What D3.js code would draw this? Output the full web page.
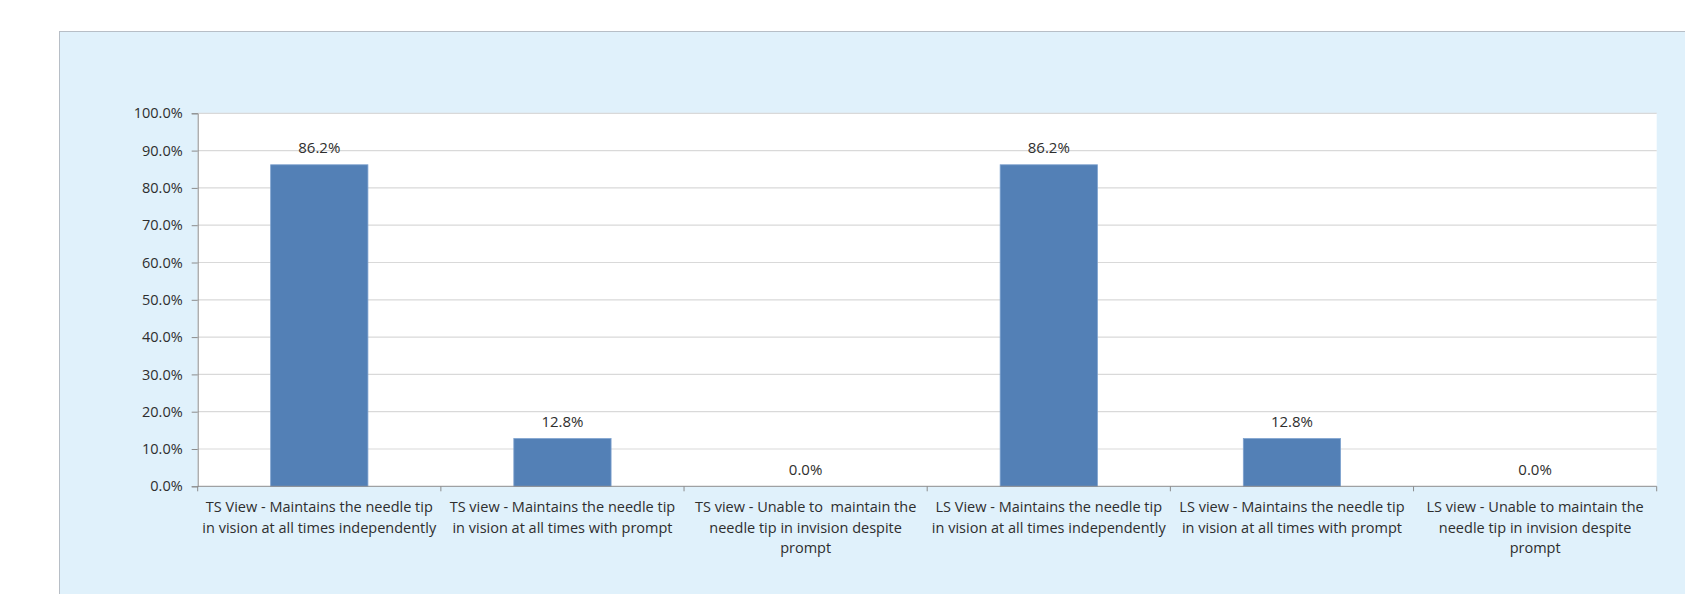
<!DOCTYPE html>
<html>
<head>
<meta charset="utf-8">
<script src="https://cdn.jsdelivr.net/npm/d3@7"></script>
<style>
  body { margin: 0; background: #ffffff; }
  svg text { font-family: "Open Sans", "Noto Sans", sans-serif; fill: #2e2e2e; white-space: pre; }
</style>
</head>
<body>
<script>
// Category labels (line breaks as in the chart)
var categories = [
	"TS View - Maintains the needle tip\nin vision at all times independently",
	"TS view - Maintains the needle tip\nin vision at all times with prompt",
	"TS view - Unable to  maintain the\nneedle tip in invision despite\nprompt",
	"LS View - Maintains the needle tip\nin vision at all times independently",
	"LS view - Maintains the needle tip\nin vision at all times with prompt",
	"LS view - Unable to maintain the\nneedle tip in invision despite\nprompt"
];

// Percentages
var values = [86.2, 12.8, 0.0, 86.2, 12.8, 0.0];

// y tick values
var yTicks = [0, 10, 20, 30, 40, 50, 60, 70, 80, 90, 100];

// Width and height
var width = 1685;
var height = 594;
var margin = {top: 113.3, right: 28.3, bottom: 107.7, left: 197.7};
var plot_w = width - margin.left - margin.right;
var plot_h = height - margin.top - margin.bottom;

var svg = d3.select("body")
			.append("svg")
			.attr("width", width)
			.attr("height", height);

// chart background
svg.append("rect")
	.attr("x", 59.5)
	.attr("y", 31.5)
	.attr("width", width)
	.attr("height", height)
	.style("fill", "#e0f1fb")
	.style("stroke", "#b7bec6")
	.style("stroke-width", 1);

var g = svg.append("g")
			.attr("transform", "translate(" + margin.left + "," + margin.top + ")");

// plot area
g.append("rect")
	.attr("width", plot_w)
	.attr("height", plot_h)
	.style("fill", "#ffffff");

var xScale = d3.scaleBand()
				.domain(d3.range(categories.length))
				.range([0, plot_w])
				.padding(0);

var yScale = d3.scaleLinear()
				.domain([0, 100])
				.range([plot_h, 0]);

// gridlines
g.selectAll(".grid")
	.data(yTicks.filter(function(d){ return d > 0; }))
	.enter()
	.append("line")
	.attr("class", "grid")
	.attr("x1", 0)
	.attr("x2", plot_w)
	.attr("y1", function(d){ return yScale(d); })
	.attr("y2", function(d){ return yScale(d); })
	.style("stroke", "#d9d9d9")
	.style("stroke-width", 1.2);

// Y axis
var yAxis = d3.axisLeft(yScale)
				.tickValues(yTicks)
				.tickSize(6)
				.tickPadding(9)
				.tickFormat(function(d){ return d.toFixed(1) + "%"; });

var yg = g.append("g").call(yAxis);
yg.select(".domain").style("stroke", "#8c8c8c");
yg.selectAll(".tick line").style("stroke", "#8c8c8c");
yg.selectAll(".tick text")
	.style("font-size", "14.5px")
	.style("fill", "#2e2e2e")
	.style("font-family", "\"Open Sans\", sans-serif");

// bars
var bar_w = xScale.bandwidth() * 0.4;
g.selectAll(".bar")
	.data(values)
	.enter()
	.append("rect")
	.attr("class", "bar")
	.attr("x", function(d, i){ return xScale(i) + (xScale.bandwidth() - bar_w) / 2; })
	.attr("y", function(d){ return yScale(d); })
	.attr("width", bar_w)
	.attr("height", function(d){ return plot_h - yScale(d); })
	.style("fill", "#5380b6")
	.style("stroke", "#7ea2cf")
	.style("stroke-width", 0.8);

// data labels
g.selectAll(".lbl")
	.data(values)
	.enter()
	.append("text")
	.attr("class", "lbl")
	.attr("x", function(d, i){ return xScale(i) + xScale.bandwidth() / 2; })
	.attr("y", function(d){ return yScale(d) - 11.5; })
	.attr("text-anchor", "middle")
	.style("font-size", "15px")
	.text(function(d){ return d.toFixed(1) + "%"; });

// X axis line and boundary ticks
g.append("line")
	.attr("x1", 0)
	.attr("x2", plot_w)
	.attr("y1", plot_h)
	.attr("y2", plot_h)
	.style("stroke", "#8c8c8c");

g.selectAll(".xtick")
	.data(d3.range(categories.length + 1))
	.enter()
	.append("line")
	.attr("class", "xtick")
	.attr("x1", function(d){ return d * xScale.step(); })
	.attr("x2", function(d){ return d * xScale.step(); })
	.attr("y1", plot_h)
	.attr("y2", plot_h + 5)
	.style("stroke", "#8c8c8c");

// category labels
var cat = g.selectAll(".cat")
	.data(categories)
	.enter()
	.append("text")
	.attr("class", "cat")
	.attr("text-anchor", "middle")
	.style("font-size", "14.5px")
	.attr("transform", function(d, i){
		return "translate(" + (xScale(i) + xScale.bandwidth() / 2) + "," + (plot_h + 26) + ")";
	});

cat.selectAll("tspan")
	.data(function(d){ return d.split("\n"); })
	.enter()
	.append("tspan")
	.attr("x", 0)
	.attr("y", function(d, i){ return i * 20.5; })
	.text(function(d){ return d; });
</script>
</body>
</html>
